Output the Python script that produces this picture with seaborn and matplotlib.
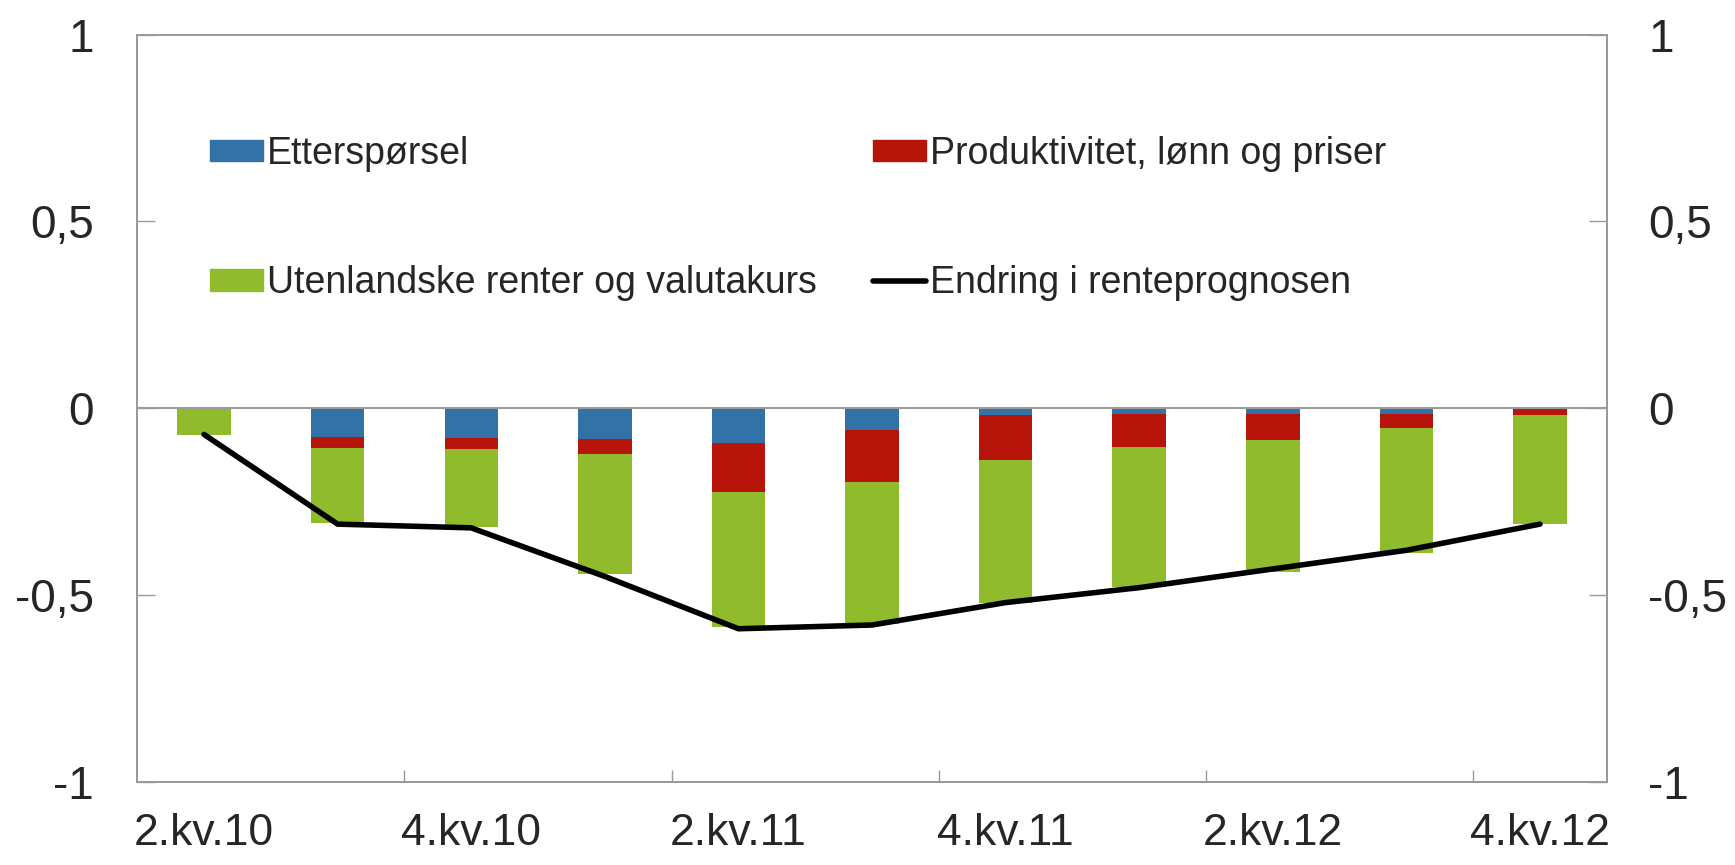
import numpy as np
import pandas as pd
import matplotlib
matplotlib.use('Agg')
import matplotlib.pyplot as plt
import seaborn as sns
from matplotlib.patches import Patch
from matplotlib.lines import Line2D

# Data
quarters = ['2.kv.10', '3.kv.10', '4.kv.10', '1.kv.11', '2.kv.11', '3.kv.11',
            '4.kv.11', '1.kv.12', '2.kv.12', '3.kv.12', '4.kv.12']
ettersporsel = [0.0, -0.078, -0.079, -0.082, -0.094, -0.057, -0.019, -0.015, -0.015, -0.015, -0.002]
produktivitet = [0.0, -0.029, -0.029, -0.041, -0.131, -0.139, -0.119, -0.089, -0.071, -0.038, -0.016]
utenlandske = [-0.071, -0.201, -0.210, -0.320, -0.361, -0.380, -0.382, -0.373, -0.351, -0.333, -0.291]
renteprognose = [-0.07, -0.31, -0.32, -0.45, -0.59, -0.58, -0.52, -0.48, -0.43, -0.38, -0.31]

y_ticks = [-1, -0.5, 0, 0.5, 1]
y_ticklabels = ['-1', '-0,5', '0', '0,5', '1']

c_blue = '#3272A7'
c_red = '#B7150A'
c_green = '#8FBB2D'
grey = '#9A9A9A'

df = pd.DataFrame({'kvartal': quarters, 'E': ettersporsel, 'P': produktivitet,
                   'U': utenlandske, 'linje': renteprognose})
# all contributions are negative, so layered bars from zero give the stack
df['cum_E'] = df['E']
df['cum_P'] = df['E'] + df['P']
df['cum_U'] = df['E'] + df['P'] + df['U']
df['pos'] = np.arange(len(df))

sns.set_style('white')
plt.rcParams['font.family'] = ['Liberation Sans', 'DejaVu Sans']

fig = plt.figure(figsize=(17.35, 8.65), dpi=100)
ax = fig.add_axes([0.0791, 0.096, 0.847, 0.864])

sns.barplot(data=df, x='kvartal', y='cum_U', order=quarters, color=c_green,
            width=0.4, saturation=1, ax=ax, linewidth=0)
sns.barplot(data=df, x='kvartal', y='cum_P', order=quarters, color=c_red,
            width=0.4, saturation=1, ax=ax, linewidth=0)
sns.barplot(data=df, x='kvartal', y='cum_E', order=quarters, color=c_blue,
            width=0.4, saturation=1, ax=ax, linewidth=0)
ax.axhline(0, color=grey, lw=1.5, zorder=1)
ax.plot(df['pos'], df['linje'], color='black', lw=4, solid_capstyle='round', zorder=5)

ax.set_xlim(-0.5, len(quarters) - 0.5)
ax.set_ylim(-1, 1)
ax.set_xlabel('')
ax.set_ylabel('')

# labels on every other quarter, tick marks between the pairs
ax.set_xticks(df['pos'][::2])
ax.set_xticklabels(quarters[::2])
ax.set_xticks(df['pos'][1:-1:2] + 0.5, minor=True)
ax.tick_params(axis='x', which='major', length=0, labelsize=32, pad=22)
ax.tick_params(axis='x', which='minor', direction='in', length=9, width=1, color=grey, bottom=True)

ax.set_yticks(y_ticks)
ax.set_yticklabels(y_ticklabels)
ax.tick_params(axis='y', direction='in', length=13, width=1, color=grey, labelsize=33, pad=31, left=True)

ax2 = ax.twinx()
ax2.set_ylim(-1, 1)
ax2.set_yticks(y_ticks)
ax2.set_yticklabels(y_ticklabels)
ax2.tick_params(axis='y', direction='in', length=13, width=1, color=grey, labelsize=33, pad=30, right=True)

for a in (ax, ax2):
    for s in a.spines.values():
        s.set_visible(True)
        s.set_color(grey)
        s.set_linewidth(1.3)

handles = [Patch(color=c_blue), Patch(color=c_green), Patch(color=c_red),
           Line2D([0], [0], color='black', lw=4)]
labels = ['Etterspørsel', 'Utenlandske renter og valutakurs',
          'Produktivitet, lønn og priser', 'Endring i renteprognosen']
ax2.legend(handles, labels, ncol=2, loc='upper left', bbox_to_anchor=(0.037, 0.89),
           frameon=False, handlelength=1.4, handleheight=0.5, handletextpad=0.1,
           columnspacing=1.52, labelspacing=2.5, borderpad=0,
           prop={'family': ['Liberation Sans Narrow', 'Liberation Sans', 'DejaVu Sans'], 'size': 27})

fig.savefig('out.png', dpi=100)
